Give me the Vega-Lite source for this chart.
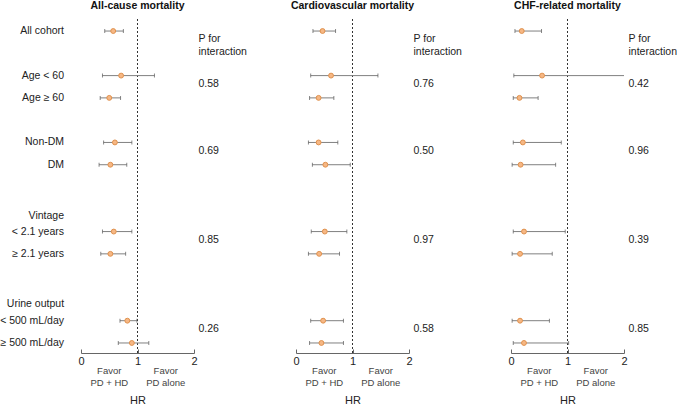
{
  "$schema": "https://vega.github.io/schema/vega-lite/v6.json",
  "padding": 0,
  "background": "white",
  "config": {
    "font": "Liberation Sans",
    "view": {"stroke": null},
    "axis": {"labelFont": "Liberation Sans", "titleFont": "Liberation Sans"}
  },
  "data": {
    "values": [
      {"outcome": "All-cause mortality", "kind": "est", "group": "All cohort", "row": 0, "hr": 0.57, "lo": 0.42, "hi": 0.75},
      {"outcome": "All-cause mortality", "kind": "est", "group": "Age < 60", "row": 2, "hr": 0.71, "lo": 0.38, "hi": 1.30},
      {"outcome": "All-cause mortality", "kind": "est", "group": "Age ≥ 60", "row": 3, "hr": 0.50, "lo": 0.34, "hi": 0.70},
      {"outcome": "All-cause mortality", "kind": "est", "group": "Non-DM", "row": 5, "hr": 0.60, "lo": 0.40, "hi": 0.90},
      {"outcome": "All-cause mortality", "kind": "est", "group": "DM", "row": 6, "hr": 0.52, "lo": 0.32, "hi": 0.81},
      {"outcome": "All-cause mortality", "kind": "head", "group": "Vintage", "row": 8.3},
      {"outcome": "All-cause mortality", "kind": "est", "group": "< 2.1 years", "row": 9, "hr": 0.58, "lo": 0.38, "hi": 0.90},
      {"outcome": "All-cause mortality", "kind": "est", "group": "≥ 2.1 years", "row": 10, "hr": 0.52, "lo": 0.35, "hi": 0.79},
      {"outcome": "All-cause mortality", "kind": "head", "group": "Urine output", "row": 12.25},
      {"outcome": "All-cause mortality", "kind": "est", "group": "< 500 mL/day", "row": 13, "hr": 0.82, "lo": 0.69, "hi": 0.99},
      {"outcome": "All-cause mortality", "kind": "est", "group": "≥ 500 mL/day", "row": 14, "hr": 0.90, "lo": 0.66, "hi": 1.20},
      {"outcome": "Cardiovascular mortality", "kind": "est", "group": "All cohort", "row": 0, "hr": 0.47, "lo": 0.30, "hi": 0.70},
      {"outcome": "Cardiovascular mortality", "kind": "est", "group": "Age < 60", "row": 2, "hr": 0.62, "lo": 0.26, "hi": 1.45},
      {"outcome": "Cardiovascular mortality", "kind": "est", "group": "Age ≥ 60", "row": 3, "hr": 0.40, "lo": 0.24, "hi": 0.67},
      {"outcome": "Cardiovascular mortality", "kind": "est", "group": "Non-DM", "row": 5, "hr": 0.40, "lo": 0.22, "hi": 0.74},
      {"outcome": "Cardiovascular mortality", "kind": "est", "group": "DM", "row": 6, "hr": 0.52, "lo": 0.29, "hi": 0.96},
      {"outcome": "Cardiovascular mortality", "kind": "est", "group": "< 2.1 years", "row": 9, "hr": 0.51, "lo": 0.27, "hi": 0.90},
      {"outcome": "Cardiovascular mortality", "kind": "est", "group": "≥ 2.1 years", "row": 10, "hr": 0.41, "lo": 0.22, "hi": 0.77},
      {"outcome": "Cardiovascular mortality", "kind": "est", "group": "< 500 mL/day", "row": 13, "hr": 0.48, "lo": 0.26, "hi": 0.84},
      {"outcome": "Cardiovascular mortality", "kind": "est", "group": "≥ 500 mL/day", "row": 14, "hr": 0.45, "lo": 0.24, "hi": 0.84},
      {"outcome": "CHF-related mortality", "kind": "est", "group": "All cohort", "row": 0, "hr": 0.19, "lo": 0.07, "hi": 0.54},
      {"outcome": "CHF-related mortality", "kind": "est", "group": "Age < 60", "row": 2, "hr": 0.55, "lo": 0.05, "hi": 2.40},
      {"outcome": "CHF-related mortality", "kind": "est", "group": "Age ≥ 60", "row": 3, "hr": 0.15, "lo": 0.04, "hi": 0.48},
      {"outcome": "CHF-related mortality", "kind": "est", "group": "Non-DM", "row": 5, "hr": 0.21, "lo": 0.04, "hi": 0.89},
      {"outcome": "CHF-related mortality", "kind": "est", "group": "DM", "row": 6, "hr": 0.17, "lo": 0.02, "hi": 0.79},
      {"outcome": "CHF-related mortality", "kind": "est", "group": "< 2.1 years", "row": 9, "hr": 0.23, "lo": 0.04, "hi": 0.96},
      {"outcome": "CHF-related mortality", "kind": "est", "group": "≥ 2.1 years", "row": 10, "hr": 0.16, "lo": 0.02, "hi": 0.73},
      {"outcome": "CHF-related mortality", "kind": "est", "group": "< 500 mL/day", "row": 13, "hr": 0.16, "lo": 0.02, "hi": 0.68},
      {"outcome": "CHF-related mortality", "kind": "est", "group": "≥ 500 mL/day", "row": 14, "hr": 0.23, "lo": 0.04, "hi": 1.02},
      {"outcome": "All-cause mortality", "kind": "p", "row": 2.5, "p": "0.58"},
      {"outcome": "All-cause mortality", "kind": "p", "row": 5.5, "p": "0.69"},
      {"outcome": "All-cause mortality", "kind": "p", "row": 9.5, "p": "0.85"},
      {"outcome": "All-cause mortality", "kind": "p", "row": 13.5, "p": "0.26"},
      {"outcome": "Cardiovascular mortality", "kind": "p", "row": 2.5, "p": "0.76"},
      {"outcome": "Cardiovascular mortality", "kind": "p", "row": 5.5, "p": "0.50"},
      {"outcome": "Cardiovascular mortality", "kind": "p", "row": 9.5, "p": "0.97"},
      {"outcome": "Cardiovascular mortality", "kind": "p", "row": 13.5, "p": "0.58"},
      {"outcome": "CHF-related mortality", "kind": "p", "row": 2.5, "p": "0.42"},
      {"outcome": "CHF-related mortality", "kind": "p", "row": 5.5, "p": "0.96"},
      {"outcome": "CHF-related mortality", "kind": "p", "row": 9.5, "p": "0.39"},
      {"outcome": "CHF-related mortality", "kind": "p", "row": 13.5, "p": "0.85"}
    ]
  },
  "facet": {
    "column": {
      "field": "outcome",
      "type": "nominal",
      "sort": ["All-cause mortality", "Cardiovascular mortality", "CHF-related mortality"],
      "header": {
        "title": null,
        "labelFont": "Liberation Sans",
        "labelFontSize": 10.5,
        "labelFontWeight": "bold",
        "labelColor": "#111111",
        "labelPadding": 8
      }
    }
  },
  "spacing": 102,
  "bounds": "flush",
  "spec": {
    "width": 113,
    "height": 334,
    "layer": [
      {
        "transform": [{"filter": "datum.kind === 'est' && datum.row === 0"}],
        "mark": {"type": "rule", "strokeDash": [2, 2], "color": "#333333", "strokeWidth": 1},
        "encoding": {
          "x": {
            "datum": 1,
            "type": "quantitative",
            "scale": {"domain": [0, 2], "nice": false, "zero": false},
            "axis": {
              "values": [0, 0.5, 1, 1.5, 2],
              "format": "~g",
              "title": "HR",
              "grid": false,
              "domainColor": "#666666",
              "tickColor": "#666666",
              "tickSize": -4,
              "labelPadding": 6,
              "labelFontSize": 11,
              "labelColor": "#222222",
              "labelFlush": false,
              "labelOverlap": false,
              "titleFontSize": 11,
              "titleFontWeight": "normal",
              "titleColor": "#222222",
              "titlePadding": 28
            }
          }
        }
      },
      {
        "transform": [{"filter": "datum.kind === 'est'"}],
        "mark": {"type": "rule", "color": "#808080", "strokeWidth": 1, "clip": true},
        "encoding": {
          "x": {"field": "lo", "type": "quantitative"},
          "x2": {"field": "hi"},
          "y": {"field": "row", "type": "quantitative", "scale": {"domain": [-0.54, 14.45], "reverse": true, "nice": false, "zero": false}, "axis": null}
        }
      },
      {
        "transform": [{"filter": "datum.kind === 'est'"}],
        "mark": {"type": "tick", "orient": "vertical", "color": "#555555", "thickness": 1, "size": 4, "clip": true},
        "encoding": {
          "x": {"field": "lo", "type": "quantitative"},
          "y": {"field": "row", "type": "quantitative"}
        }
      },
      {
        "transform": [{"filter": "datum.kind === 'est'"}],
        "mark": {"type": "tick", "orient": "vertical", "color": "#555555", "thickness": 1, "size": 4, "clip": true},
        "encoding": {
          "x": {"field": "hi", "type": "quantitative"},
          "y": {"field": "row", "type": "quantitative"}
        }
      },
      {
        "transform": [{"filter": "datum.kind === 'est'"}],
        "mark": {"type": "point", "shape": "circle", "filled": true, "fill": "#F6B784", "stroke": "#E0914D", "strokeWidth": 1, "size": 24, "opacity": 1},
        "encoding": {
          "x": {"field": "hr", "type": "quantitative"},
          "y": {"field": "row", "type": "quantitative"}
        }
      },
      {
        "transform": [{"filter": "datum.outcome === 'All-cause mortality' && datum.kind !== 'p'"}],
        "mark": {"type": "text", "align": "right", "baseline": "middle", "fontSize": 10.5, "color": "#222222"},
        "encoding": {
          "x": {"datum": -0.3, "type": "quantitative"},
          "y": {"field": "row", "type": "quantitative"},
          "text": {"field": "group"}
        }
      },
      {
        "transform": [{"filter": "datum.kind === 'p'"}],
        "mark": {"type": "text", "align": "left", "baseline": "middle", "fontSize": 10.5, "color": "#222222", "dy": -3},
        "encoding": {
          "x": {"datum": 2.08, "type": "quantitative"},
          "y": {"field": "row", "type": "quantitative"},
          "text": {"field": "p"}
        }
      },
      {
        "transform": [{"filter": "datum.kind === 'est' && datum.row === 0"}],
        "mark": {"type": "text", "align": "left", "baseline": "middle", "fontSize": 10.5, "color": "#222222", "lineBreak": "\n", "lineHeight": 12.5, "text": "P for\ninteraction"},
        "encoding": {
          "x": {"datum": 2.08, "type": "quantitative"},
          "y": {"datum": 0.38, "type": "quantitative"}
        }
      },
      {
        "transform": [{"filter": "datum.kind === 'est' && datum.row === 0"}],
        "mark": {"type": "text", "align": "center", "baseline": "top", "fontSize": 9.5, "color": "#444444", "lineBreak": "\n", "lineHeight": 12, "text": "Favor\nPD + HD"},
        "encoding": {
          "x": {"datum": 0.5, "type": "quantitative"},
          "y": {"datum": 15.03, "type": "quantitative"}
        }
      },
      {
        "transform": [{"filter": "datum.kind === 'est' && datum.row === 0"}],
        "mark": {"type": "text", "align": "center", "baseline": "top", "fontSize": 9.5, "color": "#444444", "lineBreak": "\n", "lineHeight": 12, "text": "Favor\nPD alone"},
        "encoding": {
          "x": {"datum": 1.5, "type": "quantitative"},
          "y": {"datum": 15.03, "type": "quantitative"}
        }
      }
    ]
  }
}
